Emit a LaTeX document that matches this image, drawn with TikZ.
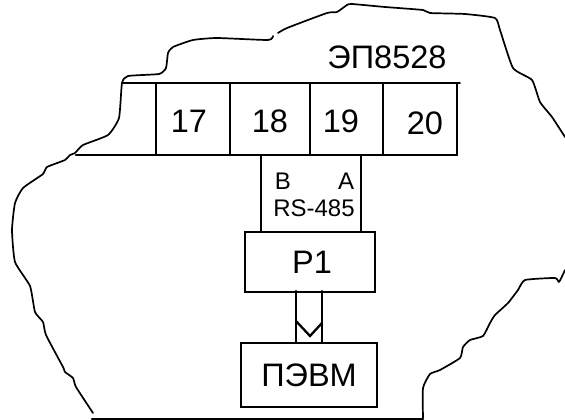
\documentclass[tikz,border=0pt]{standalone}
\usepackage{fontspec}
\setmainfont{Liberation Sans}
\usepackage{tikz}

\begin{document}
\begin{tikzpicture}
		[x=1pt,y=-1pt,line cap=round,
		%Styles
		wire/.style={line width=2.3pt},
		thin wire/.style={line width=1.5pt},
		outline/.style={line width=1.7pt,line join=round},
		cell text/.style={font=\fontsize{32.5}{32.5}\selectfont,inner sep=0pt},
		small text/.style={font=\fontsize{24}{24}\selectfont,inner sep=0pt},
		main box/.style={draw,line width=2.3pt,font=\fontsize{32.5}{32.5}\selectfont,inner sep=0pt}
		]

		\useasboundingbox (0,0) rectangle (565,420);

		%The torn outline
		\draw[outline] plot[smooth,tension=.3] coordinates {(273,36) (268,40) (217,38) (193,40) (173,47) (168,53) (166,68) (159,74) (128,76) (122,83) (119,118) (108,135) (83,145) (75,153) (70,155) (65,160) (47,167) (43,174) (23,188) (15,203) (12,230) (15,262) (30,286) (35,312) (43,322) (46,335) (63,367) (65,372) (73,378) (76,387) (93,413)};
		\draw[outline] plot[smooth,tension=.3] coordinates {(423,418) (423,388) (430,374) (440,370) (460,358) (463,347) (470,340) (483,336) (490,323) (495,315) (508,303) (518,290) (525,280) (555,278) (559,282) (565,270)};
		\draw[outline] plot[smooth,tension=.3] coordinates {(565,137) (552,117) (540,102) (532,80) (513,68) (500,30) (495,18) (465,14) (430,13) (423,10) (385,7) (352,4) (347,5) (337,12) (327,13) (287,28) (278,33)};
		\draw[wire] (92,419) -- (423,419);

		%The terminal strip
		\coordinate (T0) at (122,83);
		\coordinate (T1) at (156,83);
		\coordinate (T2) at (230,83);
		\coordinate (T3) at (310,83);
		\coordinate (T4) at (383,83);
		\coordinate (T5) at (457,83);
		\coordinate (T6) at (460,83);

		\coordinate (L0) at (76,155);
		\coordinate (L1) at (156,155);
		\coordinate (L2) at (230,155);
		\coordinate (L3) at (310,155);
		\coordinate (L4) at (383,155);
		\coordinate (L5) at (457,155);

		\node[cell text] (N17) at (189,121) {17};
		\node[cell text] (N18) at (270,121) {18};
		\node[cell text] (N19) at (341,121) {19};
		\node[cell text] (N20) at (425,123) {20};
		\node[cell text] (EP) at (387,57) {ЭП8528};

		\draw[thin wire] (T0) -- (T6);
		\draw[wire] (L0) -- (L5);
		\path[wire]
			(T1)	edge	(L1)
			(T2)	edge	(L2)
			(T4)	edge	(L4);
		\path[thin wire]
			(T3)	edge	(L3)
			(T5)	edge	(L5);

		%The line and the converter
		\node[main box,minimum width=130pt,minimum height=60pt] (P1) at (310,262) {\hspace{4pt}Р1};
		\node[main box,minimum width=136pt,minimum height=64pt] (PC) at (309,375) {ПЭВМ};

		\coordinate (LB) at (261,155);
		\coordinate (LA) at (361,155);
		\draw[wire] (LB) -- (LB |- P1.north);
		\draw[wire] (LA) -- (LA |- P1.north);

		\node[small text] (B) at (283,181) {В};
		\node[small text] (A) at (346,181) {А};
		\node[small text] (RS) at (314,208) {RS-485};

		%The bus
		\coordinate (BL) at (296,291);
		\coordinate (BR) at (322,291);
		\coordinate (VL) at (296,321);
		\coordinate (VM) at (310,336);
		\coordinate (VR) at (322,323);
		\draw[wire] (BL) -- (BL |- PC.north);
		\draw[wire] (BR) -- (BR |- PC.north);
		\draw[wire] (VL) -- (VM) -- (VR);
	\end{tikzpicture}
\end{document}
